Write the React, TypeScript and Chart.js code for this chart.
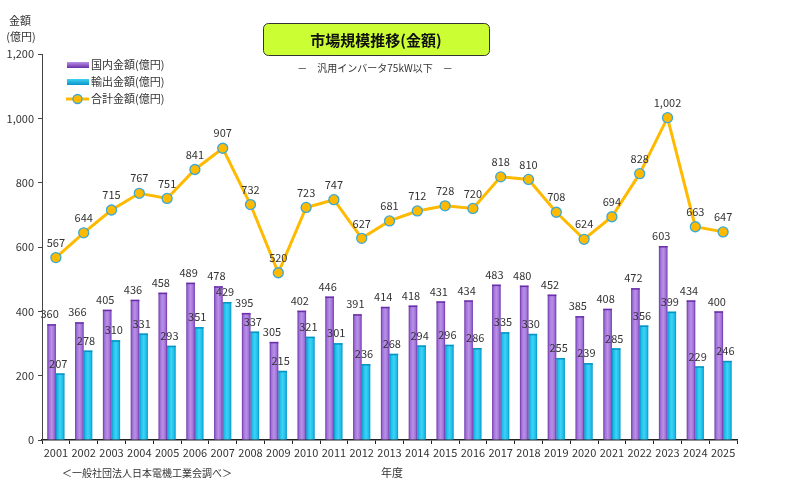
import React, { useEffect, useRef } from "react";
import { Chart, registerables } from "chart.js";

Chart.register(...registerables);

const years = [
  "2001", "2002", "2003", "2004", "2005", "2006", "2007", "2008", "2009", "2010",
  "2011", "2012", "2013", "2014", "2015", "2016", "2017", "2018", "2019", "2020",
  "2021", "2022", "2023", "2024", "2025",
];
const domestic = [
  360, 366, 405, 436, 458, 489, 478, 395, 305, 402, 446, 391, 414, 418, 431, 434,
  483, 480, 452, 385, 408, 472, 603, 434, 400,
];
const exports = [
  207, 278, 310, 331, 293, 351, 429, 337, 215, 321, 301, 236, 268, 294, 296, 286,
  335, 330, 255, 239, 285, 356, 399, 229, 246,
];
const total = [
  567, 644, 715, 767, 751, 841, 907, 732, 520, 723, 747, 627, 681, 712, 728, 720,
  818, 810, 708, 624, 694, 828, 1002, 663, 647,
];
const seriesNames = ["国内金額(億円)", "輸出金額(億円)", "合計金額(億円)"];

const FONT = "'Noto Sans CJK JP', 'Noto Sans', sans-serif";
const GOLD = "#FFBA00";
// [edge, mid, center] for shaded bars
const barShades = [
  ["#6A2FA8", "#A070D8", "#B992E6"],
  ["#0893C4", "#1CBFEA", "#3FD2F6"],
];

const decorations = {
  id: "decorations",
  beforeDatasetDraw(chart: any, args: any) {
    const di = args.index;
    if (di > 1) return;
    const ctx = chart.ctx as CanvasRenderingContext2D;
    const [edge, mid, center] = barShades[di];
    ctx.save();
    args.meta.data.forEach((el: any) => {
      const x0 = el.x - el.width / 2;
      const w = el.width;
      const top = el.y;
      const h = el.base - el.y;
      const g = ctx.createLinearGradient(x0, 0, x0 + w, 0);
      g.addColorStop(0, edge);
      g.addColorStop(0.2, mid);
      g.addColorStop(0.5, center);
      g.addColorStop(0.8, mid);
      g.addColorStop(1, edge);
      ctx.fillStyle = g;
      ctx.fillRect(x0, top, w, h);
      ctx.fillStyle = edge;
      ctx.fillRect(x0, top, w, 1.5);
    });
    ctx.restore();
    return false;
  },
  afterDatasetsDraw(chart: any) {
    const ctx = chart.ctx as CanvasRenderingContext2D;
    ctx.save();
    ctx.font = `11px ${FONT}`;
    ctx.fillStyle = "#333";
    ctx.textAlign = "center";
    ctx.textBaseline = "middle";
    [0, 1].forEach((di) => {
      const meta = chart.getDatasetMeta(di);
      meta.data.forEach((el: any, i: number) => {
        const v = chart.data.datasets[di].data[i];
        ctx.fillText(String(v), el.x - 2, el.y - 10);
      });
    });
    const lm = chart.getDatasetMeta(2);
    lm.data.forEach((el: any, i: number) => {
      const v = chart.data.datasets[2].data[i];
      ctx.fillText(v.toLocaleString("en-US"), el.x, el.y - 15);
    });
    ctx.restore();
  },
  afterDraw(chart: any) {
    const ctx = chart.ctx as CanvasRenderingContext2D;
    ctx.save();
    // title box
    ctx.beginPath();
    (ctx as any).roundRect(263.5, 23.5, 226, 32, 5);
    ctx.fillStyle = "#CCFF33";
    ctx.fill();
    ctx.strokeStyle = "#333";
    ctx.lineWidth = 1;
    ctx.stroke();
    ctx.fillStyle = "#111";
    ctx.textAlign = "center";
    ctx.textBaseline = "middle";
    ctx.font = `bold 15px ${FONT}`;
    ctx.fillText("市場規模推移(金額)", 376, 40);
    ctx.font = `10px ${FONT}`;
    ctx.fillStyle = "#333";
    ctx.fillText("－　汎用インバータ75kW以下　－", 375, 68);
    // y axis title
    ctx.font = `11px ${FONT}`;
    ctx.fillText("金額", 20, 21);
    ctx.fillText("(億円)", 21, 37);
    // footer
    ctx.textAlign = "left";
    ctx.font = `10px ${FONT}`;
    ctx.fillText("＜一般社団法人日本電機工業会調べ＞", 62, 473);
    ctx.font = `11px ${FONT}`;
    ctx.fillText("年度", 381, 473);
    // legend
    const rows = [65, 82, 99];
    rows.forEach((y, i) => {
      if (i < 2) {
        const [edge, , center] = barShades[i];
        const g = ctx.createLinearGradient(0, y - 3, 0, y + 3);
        g.addColorStop(0, center);
        g.addColorStop(1, edge);
        ctx.fillStyle = g;
        ctx.fillRect(67, y - 3, 22, 6);
      } else {
        ctx.strokeStyle = GOLD;
        ctx.lineWidth = 3;
        ctx.beginPath();
        ctx.moveTo(66, y);
        ctx.lineTo(89, y);
        ctx.stroke();
        ctx.beginPath();
        ctx.arc(77.5, y, 4.5, 0, Math.PI * 2);
        ctx.fillStyle = GOLD;
        ctx.fill();
        ctx.strokeStyle = "#3AA8D8";
        ctx.lineWidth = 1.3;
        ctx.stroke();
      }
      ctx.fillStyle = "#333";
      ctx.fillText(seriesNames[i], 91, y);
    });
    ctx.restore();
  },
};

export default function App() {
  const canvasRef = useRef<HTMLCanvasElement>(null);

  useEffect(() => {
    const chart = new Chart(canvasRef.current!, {
      type: "bar",
      data: {
        labels: years,
        datasets: [
          {
            type: "bar",
            label: seriesNames[0],
            data: domestic,
            backgroundColor: barShades[0][1],
            categoryPercentage: 0.62,
            barPercentage: 1,
            order: 2,
          },
          {
            type: "bar",
            label: seriesNames[1],
            data: exports,
            backgroundColor: barShades[1][1],
            categoryPercentage: 0.62,
            barPercentage: 1,
            order: 2,
          },
          {
            type: "line",
            label: seriesNames[2],
            data: total,
            borderColor: GOLD,
            borderWidth: 3,
            pointRadius: 5,
            pointBackgroundColor: GOLD,
            pointBorderColor: "#3AA8D8",
            pointBorderWidth: 1.3,
            order: 1,
          } as any,
        ],
      },
      options: {
        animation: false,
        responsive: true,
        maintainAspectRatio: false,
        layout: { padding: { top: 54, right: 63, left: 0, bottom: 0 } },
        plugins: {
          legend: { display: false },
          tooltip: { enabled: false },
        },
        scales: {
          x: {
            afterFit: (s: any) => {
              s.height = 48;
            },
            border: { color: "#222", width: 1.5 },
            grid: { display: true, drawOnChartArea: false, drawTicks: true, tickLength: 4, color: "#222" },
            ticks: { color: "#333", font: { family: FONT, size: 11 }, padding: 2, maxRotation: 0, autoSkip: false },
          },
          y: {
            min: 0,
            max: 1200,
            afterFit: (s: any) => {
              s.width = 42;
            },
            border: { color: "#444", width: 1 },
            grid: { display: true, drawOnChartArea: false, drawTicks: true, tickLength: 4, color: "#444" },
            ticks: {
              stepSize: 200,
              color: "#333",
              font: { family: FONT, size: 11 },
              padding: 4,
              callback: (v: any) => Number(v).toLocaleString("en-US"),
            },
          },
        },
      },
      plugins: [decorations],
    });
    return () => chart.destroy();
  }, []);

  return (
    <div style={{ position: "fixed", left: 0, top: 0, width: 800, height: 488, background: "#fff" }}>
      <canvas ref={canvasRef} />
    </div>
  );
}
